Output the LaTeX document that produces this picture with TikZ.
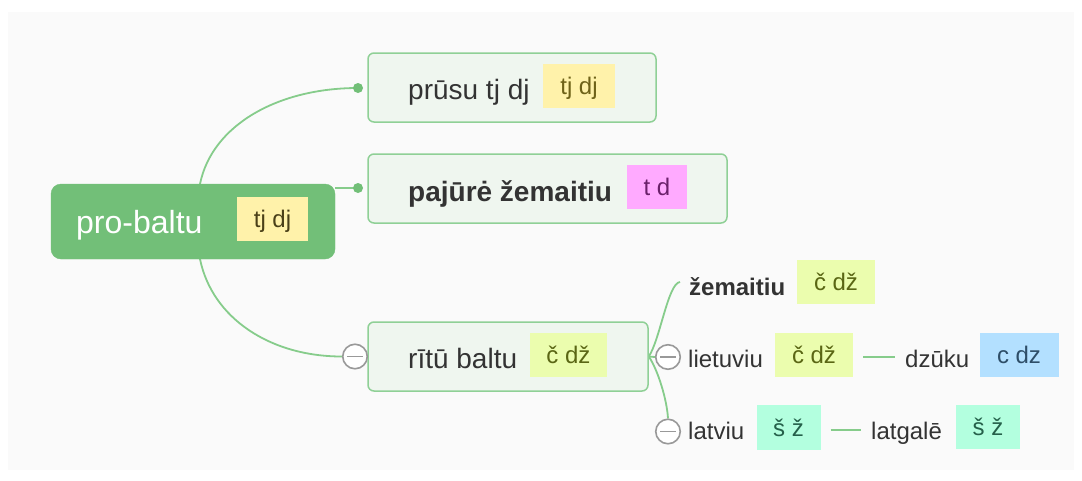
\documentclass[tikz,border=0pt]{standalone}
\usepackage{fontspec}
\setmainfont{Liberation Sans}
\usetikzlibrary{backgrounds,calc}
\definecolor{bggray}{HTML}{FAFAFA}
\definecolor{rootfill}{HTML}{72BF78}
\definecolor{nodefill}{HTML}{EFF6EF}
\definecolor{nodeborder}{HTML}{8FD096}
\definecolor{conncol}{HTML}{86CC8B}
\definecolor{maintext}{HTML}{333333}
\definecolor{cgray}{HTML}{999999}
\definecolor{tagyellow}{HTML}{FFF2AA}
\definecolor{tagpink}{HTML}{FFAAFF}
\definecolor{taglime}{HTML}{EBFDAE}
\definecolor{tagblue}{HTML}{B3E0FF}
\definecolor{tagmint}{HTML}{B3FFDF}
\definecolor{txyellow}{HTML}{6E6218}
\definecolor{txroot}{HTML}{4A4018}
\definecolor{txpink}{HTML}{6A206A}
\definecolor{txlime}{HTML}{5A6614}
\definecolor{txblue}{HTML}{2E4E68}
\definecolor{txmint}{HTML}{25604A}
\tikzset{
  rootbox/.style={fill=rootfill, draw=rootfill, rounded corners=10pt, inner sep=0},
  mainbox/.style={fill=nodefill, draw=nodeborder, line width=1.5pt, rounded corners=6pt, inner sep=0},
  roottext/.style={anchor=base west, inner sep=0, text=white, font=\fontsize{32}{32}\selectfont},
  maintxt/.style={anchor=base west, inner sep=0, text=maintext, font=\fontsize{28}{28}\selectfont},
  childtxt/.style={anchor=base west, inner sep=0, text=maintext, font=\fontsize{24}{24}\selectfont},
  tag/.style={minimum height=44pt, inner sep=0, text height=17pt, text depth=0pt, font=\fontsize{24}{24}\selectfont},
  conn/.style={draw=conncol, line width=1.8pt},
  subconn/.style={draw=conncol, line width=1.3pt},
  collapse/.style={circle, draw=cgray, fill=white, line width=1.6pt, minimum size=24.5pt, inner sep=0,
    path picture={\draw[cgray, line width=1.5pt] ([xshift=-8pt]path picture bounding box.center) -- ([xshift=8pt]path picture bounding box.center);}}
}
\begin{document}
\begin{tikzpicture}[x=1pt,y=-1pt]
\useasboundingbox (0,0) rectangle (1082,480);

% main boxes
\node[rootbox, minimum width=284pt, minimum height=75pt] (root) at (193,221.5) {};
\node[mainbox, minimum width=288pt, minimum height=69pt] (prusu) at (512,87.5) {};
\node[mainbox, minimum width=359pt, minimum height=69pt] (pajure) at (547.5,188.5) {};
\node[mainbox, minimum width=280pt, minimum height=69pt] (ritu) at (508,356.5) {};

% texts
\node[roottext] (rootT) at (76,233) {pro-baltu};
\node[maintxt] (prusuT) at (408,99) {prūsu tj dj};
\node[maintxt, font=\fontsize{28}{28}\selectfont\bfseries] (pajureT) at (408,201) {pajūrė žemaitiu};
\node[maintxt] (rituT) at (408,368) {rītū baltu};

\node[childtxt, font=\fontsize{24}{24}\selectfont\bfseries] (zem) at (689,295) {žemaitiu};
\node[childtxt] (liet) at (688,367) {lietuviu};
\node[childtxt] (dzu) at (905,367) {dzūku};
\node[childtxt] (lat) at (688,439.5) {latviu};
\node[childtxt] (latg) at (871,439.5) {latgalē};

% tags
\node[tag, fill=tagyellow, text=txroot, minimum width=71pt] (tRoot) at (272.5,219) {tj dj};
\node[tag, fill=tagyellow, text=txyellow, minimum width=72pt] (tPrusu) at (579,86) {tj dj};
\node[tag, fill=tagpink, text=txpink, minimum width=60pt] (tPaj) at (657,187) {t d};
\node[tag, fill=taglime, text=txlime, minimum width=77pt] (tRitu) at (568.5,355) {č dž};
\node[tag, fill=taglime, text=txlime, minimum width=78pt] (tZem) at (836,282) {č dž};
\node[tag, fill=taglime, text=txlime, minimum width=78pt] (tLiet) at (814,355) {č dž};
\node[tag, fill=tagblue, text=txblue, minimum width=79pt] (tDzu) at (1019,355) {c dz};
\node[tag, fill=tagmint, text=txmint, minimum width=64pt, minimum height=45pt] (tLat) at (788.5,427.5) {š ž};
\node[tag, fill=tagmint, text=txmint, minimum width=64pt] (tLatg) at (988,427) {š ž};

% collapse buttons
\node[collapse] (c1) at (355,356.5) {};
\node[collapse] (c2) at (668,357) {};
\node[collapse] (c3) at (668,431.5) {};

% connector end points
\coordinate (d1) at (358,88);
\coordinate (d2) at (358,188);
\coordinate (s1) at (200,184);
\coordinate (s3) at (200,259);

\begin{pgfonlayer}{background}
\fill[white] (0,0) rectangle (1082,480);
\fill[bggray] (8,12) rectangle (1074,470);
\draw[conn] (s1) .. controls (212,125) and (278,88) .. (d1);
\draw[conn] (root.east |- d2) -- (d2);
\draw[conn] (s3) .. controls (212,318) and (270,356.5) .. (c1.west);
\draw[conn] (ritu.east) .. controls (660,340) and (668,283) .. ([xshift=-9pt]zem.west |- tZem.center);
\draw[conn] (ritu.east) -- (c2.west);
\draw[conn] (ritu.east) .. controls (658,370) and (667,400) .. (c3.north);
\draw[subconn] ([xshift=10pt,yshift=-2pt]tLiet.east) -- ([xshift=-10pt,yshift=-2pt]tLiet.east -| dzu.west);
\draw[subconn] ([xshift=10pt,yshift=-2.5pt]tLat.east) -- ([xshift=-10pt,yshift=-2.5pt]tLat.east -| latg.west);
\end{pgfonlayer}
\fill[rootfill] (d1) circle (5);
\fill[rootfill] (d2) circle (5);
\end{tikzpicture}
\end{document}
